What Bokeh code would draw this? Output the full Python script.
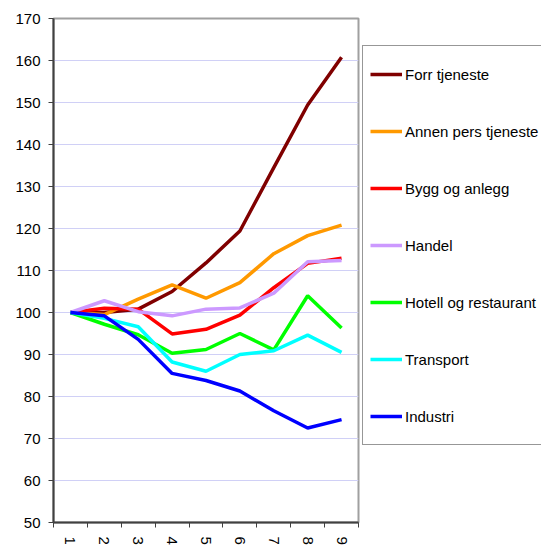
import math
from bokeh.plotting import figure
from bokeh.layouts import row
from bokeh.models import FixedTicker, Legend, LegendItem, ColumnDataSource
from bokeh.embed import file_html
from bokeh.resources import INLINE

periods = [1, 2, 3, 4, 5, 6, 7, 8, 9]
forr_tjeneste = [100, 100, 100.8, 105.0, 111.8, 119.4, 134.5, 149.4, 160.8]
annen_pers = [100, 99.5, 103.2, 106.6, 103.4, 107.1, 114.0, 118.3, 120.8]
bygg = [100, 101.0, 100.8, 94.9, 96.0, 99.4, 105.9, 111.7, 112.9]
handel = [100, 102.8, 100.2, 99.2, 100.8, 101.1, 104.6, 112.1, 112.4]
hotell = [100, 97.2, 94.7, 90.3, 91.2, 95.0, 91.1, 104.0, 96.3]
transport = [100, 98.6, 96.6, 88.2, 86.0, 90.0, 90.9, 94.6, 90.5]
industri = [100, 99.2, 93.6, 85.5, 83.8, 81.3, 76.6, 72.5, 74.5]

series = [
    ("Forr tjeneste", forr_tjeneste, "#800000"),
    ("Annen pers tjeneste", annen_pers, "#ff9900"),
    ("Bygg og anlegg", bygg, "#ff0000"),
    ("Handel", handel, "#cc99ff"),
    ("Hotell og restaurant", hotell, "#00ff00"),
    ("Transport", transport, "#00ffff"),
    ("Industri", industri, "#0000ff"),
]

FONT = "Liberation Sans"
LW = 3.5

p = figure(width=360, height=547, x_range=(0.5, 9.5), y_range=(50, 170),
           output_backend="svg", toolbar_location=None,
           min_border_left=53, min_border_top=18, min_border_bottom=20,
           min_border_right=2)
p.background_fill_color = "white"
p.border_fill_color = "white"
p.outline_line_color = "#a0a0a0"
p.outline_line_width = 2

for name, vals, color in series:
    src = ColumnDataSource(dict(x=periods, y=vals))
    p.line("x", "y", source=src, line_color=color, line_width=LW)

# axes
p.xgrid.visible = False
p.ygrid.grid_line_color = "#d0d0f6"
p.ygrid.grid_line_width = 1

p.yaxis.ticker = FixedTicker(ticks=list(range(50, 171, 10)))
p.yaxis.axis_line_color = "#404040"
p.yaxis.axis_line_width = 2
p.yaxis.major_tick_out = 5
p.yaxis.major_tick_in = 0
p.yaxis.major_tick_line_color = "#404040"
p.yaxis.minor_tick_line_color = None
p.yaxis.major_label_standoff = 8
p.yaxis.major_label_text_font = FONT
p.yaxis.major_label_text_font_size = "15px"
p.yaxis.major_label_text_color = "black"

p.xaxis.ticker = FixedTicker(ticks=periods, minor_ticks=[i + 0.5 for i in range(0, 10)])
p.xaxis.axis_line_color = "#404040"
p.xaxis.axis_line_width = 2
p.xaxis.major_tick_out = 0
p.xaxis.major_tick_in = 0
p.xaxis.minor_tick_out = 5
p.xaxis.minor_tick_in = 0
p.xaxis.minor_tick_line_color = "#404040"
p.xaxis.major_label_orientation = -math.pi / 2
p.xaxis.major_label_standoff = 9
p.xaxis.major_label_text_font = FONT
p.xaxis.major_label_text_font_size = "15px"
p.xaxis.major_label_text_color = "black"

# legend panel (separate figure to the right of the plot area);
# its line renderers lie outside its ranges, so only the legend shows
q = figure(width=181, height=547, output_backend="svg", toolbar_location=None,
           min_border=0, x_range=(-2, -1), y_range=(-2, -1))
q.axis.visible = False
q.grid.visible = False
q.outline_line_color = None
q.background_fill_color = "white"
q.border_fill_color = "white"

items = []
for name, vals, color in series:
    src = ColumnDataSource(dict(x=periods, y=vals))
    r = q.line("x", "y", source=src, line_color=color, line_width=LW)
    items.append(LegendItem(label=name, renderers=[r]))

legend = Legend(items=items, location=(2, 77))
legend.margin = 0
legend.padding = 7
legend.spacing = 15
legend.glyph_width = 32
legend.glyph_height = 42
legend.label_height = 42
legend.label_standoff = 3
legend.label_text_font = FONT
legend.label_text_font_size = "15px"
legend.label_text_color = "black"
legend.border_line_color = "#303030"
legend.border_line_width = 1
legend.background_fill_color = "white"
legend.background_fill_alpha = 1.0
q.add_layout(legend, "center")

layout = row(p, q, spacing=0)
open("out.html", "w").write(file_html(layout, INLINE))
